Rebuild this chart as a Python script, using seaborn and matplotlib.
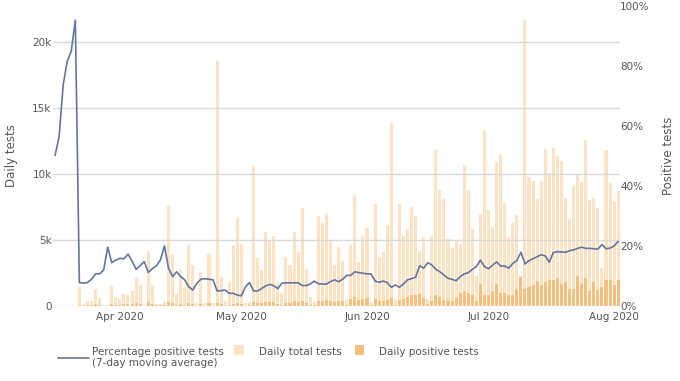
import numpy as np
import pandas as pd
import seaborn as sns
import matplotlib.pyplot as plt
import matplotlib.dates as mdates
from matplotlib.patches import Patch, Rectangle
from matplotlib.lines import Line2D
from matplotlib.legend_handler import HandlerPatch
from matplotlib.ticker import FuncFormatter, FixedLocator

# data (tests in thousands, ratio in percent)
test_dates = pd.date_range("2020-03-22", "2020-08-02", freq="D")
ratio_dates = pd.date_range("2020-03-16", "2020-08-02", freq="D")

total_tests_k = [
    1.45, 0.15, 0.4, 0.4, 1.3, 0.6, 0.05, 0.05, 1.5, 0.7,
    0.5, 0.9, 0.85, 1.15, 2.1, 1.6, 0.05, 4.2, 1.6, 0.15,
    0.15, 0.3, 7.6, 3.9, 0.9, 2.7, 1.4, 4.6, 3.1, 0.25,
    2.6, 0.25, 3.9, 0.2, 18.6, 2.2, 0.4, 1.8, 4.6, 6.7,
    4.7, 0.2, 0.3, 10.6, 3.6, 2.7, 5.6, 4.9, 5.3, 1.8,
    1.0, 3.7, 3.1, 5.6, 4.1, 7.4, 2.8, 0.7, 0.3, 6.8,
    6.3, 7.0, 4.9, 3.1, 4.5, 3.4, 0.45, 4.6, 8.4, 3.3,
    5.3, 5.9, 0.3, 7.7, 3.7, 4.1, 6.1, 13.9, 0.5, 7.7,
    5.3, 5.8, 7.5, 6.8, 4.2, 5.2, 0.5, 5.3, 11.8, 8.8,
    8.1, 5.1, 4.4, 4.9, 4.7, 10.7, 8.8, 5.8, 2.3, 7.0,
    13.3, 7.3, 6.0, 10.9, 11.5, 7.8, 5.2, 6.3, 6.9, 2.3,
    21.7, 9.8, 9.5, 8.1, 9.5, 11.9, 10.1, 12.0, 11.4, 11.0,
    8.2, 6.6, 9.1, 10.0, 9.4, 12.6, 8.0, 8.2, 7.4, 2.9,
    11.8, 9.3, 7.9, 8.7,
]

positive_tests_k = [
    0.1, 0.02, 0.05, 0.05, 0.15, 0.08, 0.02, 0.02, 0.15, 0.1,
    0.08, 0.12, 0.12, 0.15, 0.2, 0.18, 0.02, 0.3, 0.15, 0.05,
    0.05, 0.1, 0.3, 0.2, 0.08, 0.15, 0.1, 0.2, 0.15, 0.03,
    0.15, 0.03, 0.2, 0.02, 0.25, 0.12, 0.03, 0.1, 0.15, 0.2,
    0.15, 0.03, 0.05, 0.3, 0.2, 0.2, 0.3, 0.3, 0.3, 0.15,
    0.1, 0.25, 0.25, 0.35, 0.3, 0.4, 0.25, 0.08, 0.05, 0.4,
    0.4, 0.45, 0.4, 0.3, 0.4, 0.35, 0.1, 0.5, 0.7, 0.45,
    0.55, 0.6, 0.1, 0.5, 0.35, 0.35, 0.45, 0.6, 0.1, 0.45,
    0.5, 0.7, 0.85, 0.85, 0.9, 0.6, 0.15, 0.35, 0.8, 0.7,
    0.45, 0.35, 0.35, 0.6, 1.0, 1.1, 1.0, 0.85, 0.35, 1.7,
    0.85, 0.85, 1.1, 1.7, 1.0, 1.0, 0.85, 0.85, 1.2, 2.2,
    1.3, 1.4, 1.6, 1.9, 1.6, 1.8, 2.0, 2.0, 2.1, 1.7,
    1.8, 1.3, 1.3, 2.3, 1.7, 2.1, 1.1, 1.8, 1.2, 1.4,
    2.0, 2.0, 1.6, 2.0,
]

positive_pct_7d = [
    50.2, 56.4, 73.7, 81.6, 85.0, 95.3,
    7.8, 7.6, 7.8, 8.9, 10.7, 10.7, 12.0, 19.6, 14.4, 15.3,
    15.9, 15.7, 17.3, 15.0, 12.2, 13.4, 14.8, 11.2, 12.4, 13.4,
    15.3, 20.0, 12.6, 9.8, 11.4, 9.8, 8.7, 6.4, 5.3, 7.6,
    8.9, 9.1, 8.9, 8.7, 5.0, 5.1, 5.3, 4.2, 4.2, 3.6,
    3.4, 6.4, 7.8, 5.0, 5.0, 5.8, 6.7, 7.2, 6.7, 5.8,
    7.6, 7.7, 7.7, 7.7, 7.7, 6.8, 6.8, 7.3, 8.3, 7.4,
    7.3, 7.3, 8.1, 8.7, 8.1, 8.9, 10.2, 10.2, 11.4, 11.1,
    10.9, 10.7, 10.7, 8.3, 7.9, 8.3, 7.8, 6.2, 7.0, 6.2,
    7.3, 8.7, 9.1, 9.6, 13.4, 12.6, 14.4, 13.7, 12.2, 11.4,
    10.3, 9.2, 8.9, 8.4, 9.8, 10.7, 11.1, 12.2, 13.1, 15.3,
    13.1, 12.4, 13.6, 14.7, 13.3, 13.3, 12.6, 14.2, 15.1, 17.9,
    14.0, 15.1, 15.8, 16.4, 17.1, 16.7, 14.6, 17.8, 18.1, 18.0,
    17.9, 18.4, 18.7, 19.2, 19.6, 19.2, 19.2, 19.1, 18.9, 20.5,
    19.1, 19.3, 20.0, 21.5,
]

TOTAL_C = "#fde2c4"
POS_C = "#f6bf80"
LINE_C = "#62779f"
TEXT_C = "#555555"
GRID_C = "#d9d9d9"

tests = pd.DataFrame({
    "date": test_dates,
    "total": np.array(total_tests_k) * 1000,
    "positive": np.array(positive_tests_k) * 1000,
})
ratio = pd.DataFrame({"date": ratio_dates, "pct": positive_pct_7d})

sns.set_theme(style="white")
plt.rcParams["font.family"] = ["DejaVu Sans"]

fig = plt.figure(figsize=(6.8, 3.81), dpi=100)
ax = fig.add_axes([0.078, 0.197, 0.834, 0.787])

sns.barplot(data=tests, x="date", y="total", native_scale=True, color=TOTAL_C,
            saturation=1, width=0.75, errorbar=None, linewidth=0,
            edgecolor="none", ax=ax)
sns.barplot(data=tests, x="date", y="positive", native_scale=True, color=POS_C,
            saturation=1, width=0.75, errorbar=None, linewidth=0,
            edgecolor="none", ax=ax)

ax2 = ax.twinx()
sns.lineplot(data=ratio, x="date", y="pct", color=LINE_C, linewidth=1.2, ax=ax2)

ax.set_xlim(mdates.date2num(pd.Timestamp("2020-03-15 12:00")),
            mdates.date2num(pd.Timestamp("2020-08-02 12:00")))
ax.set_ylim(0, 22730)
ax2.set_ylim(0, 100)

ax.xaxis.set_major_locator(mdates.MonthLocator())
ax.xaxis.set_major_formatter(mdates.DateFormatter("%b %Y"))
ax.yaxis.set_major_locator(FixedLocator([0, 5000, 10000, 15000, 20000]))
ax.yaxis.set_major_formatter(FuncFormatter(lambda v, p: "0" if v == 0 else f"{v/1000:.0f}k"))
ax2.yaxis.set_major_locator(FixedLocator([0, 20, 40, 60, 80, 100]))
ax2.yaxis.set_major_formatter(FuncFormatter(lambda v, p: f"{v:.0f}%"))

ax.yaxis.grid(True, color=GRID_C, linewidth=1)
ax.set_axisbelow(False)
for a in (ax, ax2):
    for s in a.spines.values():
        s.set_visible(False)
    a.tick_params(length=0, labelsize=7.5, labelcolor=TEXT_C)
    a.set_xlabel("")
ax.tick_params(axis="x", pad=4.5)
ax.tick_params(axis="y", pad=1)
ax2.tick_params(axis="y", pad=0)

ax.set_ylabel("Daily tests", fontsize=8.5, color=TEXT_C, labelpad=10)
ax2.set_ylabel("Positive tests", fontsize=8.5, color=TEXT_C, labelpad=9)


def small_square(legend, orig_handle, xdescent, ydescent, width, height, fontsize):
    s = 0.95 * fontsize
    return Rectangle((-xdescent + 0.85 * fontsize, -ydescent + (height - s) / 2 + 0.1 * fontsize), s, s)


fig.legend([Line2D([], [], color=LINE_C, linewidth=1.2)],
           ["Percentage positive tests\n(7-day moving average)"],
           loc="upper left", bbox_to_anchor=(0.072, 0.115), frameon=False,
           fontsize=7.5, handlelength=2.9, handletextpad=0.3, labelcolor=TEXT_C)
fig.legend([Patch(facecolor=TOTAL_C, edgecolor="none"),
            Patch(facecolor=POS_C, edgecolor="none")],
           ["Daily total tests", "Daily positive tests"],
           loc="upper left", bbox_to_anchor=(0.318, 0.115), ncol=2, frameon=False,
           fontsize=7.5, handlelength=2.9, handletextpad=0.3, columnspacing=0.4,
           labelcolor=TEXT_C, handler_map={Patch: HandlerPatch(patch_func=small_square)})

fig.savefig("out.png", dpi=100)
